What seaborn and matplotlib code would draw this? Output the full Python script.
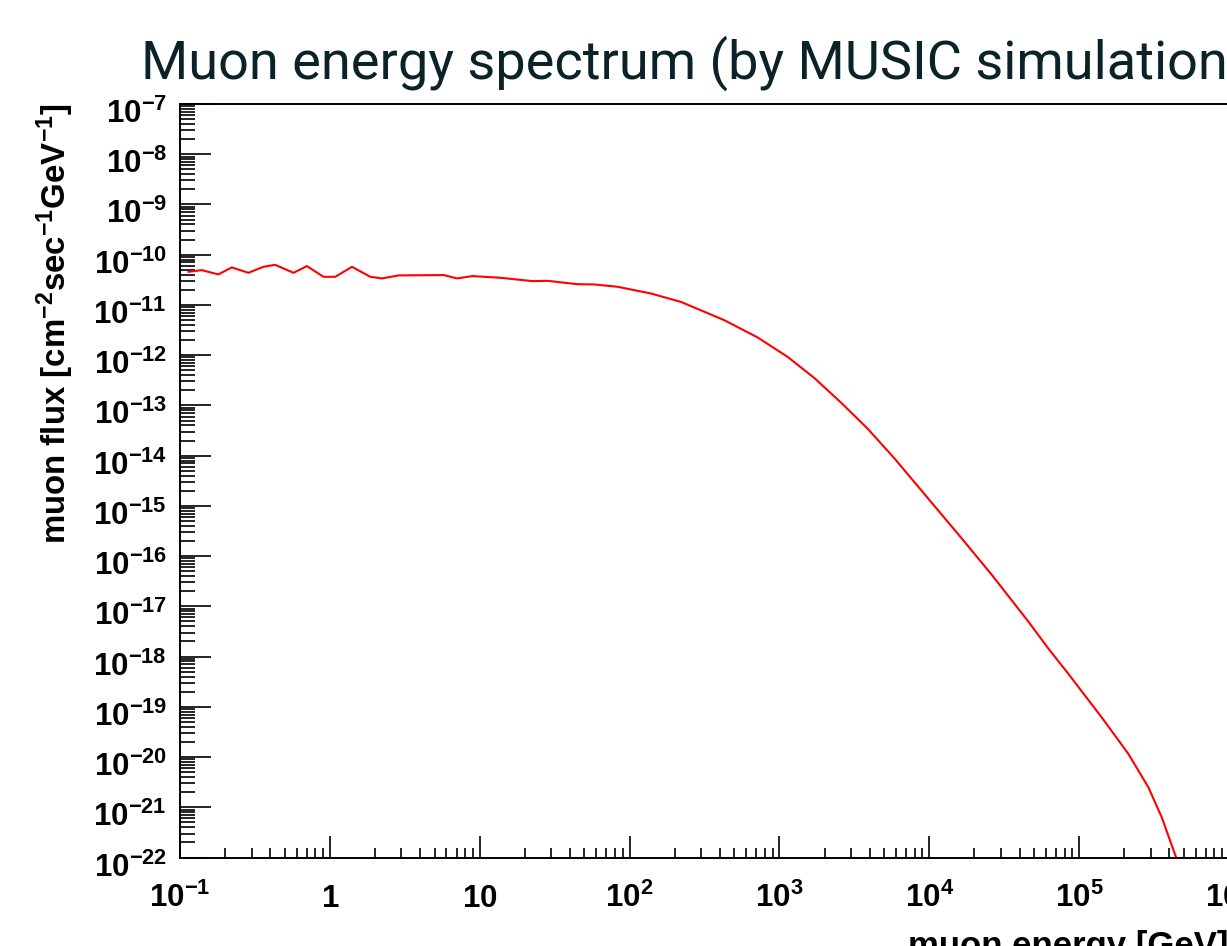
import numpy as np
import matplotlib
matplotlib.use("Agg")
import matplotlib.pyplot as plt
from matplotlib.ticker import FixedLocator, LogLocator, NullFormatter
from matplotlib.transforms import ScaledTranslation
import seaborn as sns

# ---- data ----
energy_gev = [0.1136, 0.1396, 0.1803, 0.2216, 0.2862, 0.3603, 0.4315, 0.5718,
              0.703, 0.908, 1.087, 1.405, 1.862, 2.23, 2.88, 5.75, 7.07, 8.91,
              13.8, 22.4, 28.3, 44.8, 57.9, 83.0, 138.7, 220, 428, 716, 1137,
              1712, 2582, 3893, 5866, 9306, 15560, 25960, 45700, 62150, 84600,
              141000, 212900, 289500, 355600, 447700, 470000]
muon_flux = [4.56e-11, 4.93e-11, 4.05e-11, 5.58e-11, 4.36e-11, 5.74e-11, 6.29e-11,
             4.36e-11, 5.93e-11, 3.63e-11, 3.63e-11, 5.74e-11, 3.63e-11, 3.37e-11,
             3.87e-11, 3.93e-11, 3.37e-11, 3.75e-11, 3.47e-11, 2.98e-11, 3.02e-11,
             2.59e-11, 2.56e-11, 2.30e-11, 1.69e-11, 1.15e-11, 4.98e-12, 2.25e-12,
             9.2e-13, 3.5e-13, 1.13e-13, 3.4e-14, 8.75e-15, 1.70e-15, 2.75e-16,
             4.34e-17, 5.02e-18, 1.46e-18, 4.56e-19, 6.23e-20, 1.16e-20, 2.51e-21,
             6.35e-22, 9.3e-23, 3.0e-23]

x_tick_values = [1e-1, 1, 10, 1e2, 1e3, 1e4, 1e5, 1e6]
x_tick_labels = ["10^{-1}", "1", "10", "10^{2}", "10^{3}", "10^{4}", "10^{5}", "10^{6}"]
y_tick_exponents = list(range(-22, -6))

title_text = "Muon energy spectrum (by MUSIC simulation)"
x_label = "muon energy [GeV]"
y_label = r"$\mathbf{muon\ flux\ [cm^{-2}sec^{-1}GeV^{-1}]}$"

# ---- style ----
sns.set_style("white")
plt.rcParams["font.family"] = ["Liberation Sans", "DejaVu Sans"]
plt.rcParams["mathtext.fontset"] = "custom"
plt.rcParams["mathtext.rm"] = "Liberation Sans"
plt.rcParams["mathtext.bf"] = "Liberation Sans:bold"
plt.rcParams["mathtext.it"] = "Liberation Sans:italic"
for k in ["text.color", "axes.labelcolor", "xtick.color", "ytick.color",
          "axes.edgecolor"]:
    plt.rcParams[k] = "black"

W, H = 1227, 946
fig = plt.figure(figsize=(W / 100, H / 100), dpi=100)
fig.patch.set_facecolor("white")
ax_left, ax_right, ax_top, ax_bottom = 180, 1229, 104, 857.5
ax = fig.add_axes([ax_left / W, (H - ax_bottom) / H,
                   (ax_right - ax_left) / W, (ax_bottom - ax_top) / H])
ax.set_xscale("log")
ax.set_yscale("log")

sns.lineplot(x=energy_gev, y=muon_flux, ax=ax, color="#ff0000", linewidth=1.5,
             sort=False, estimator=None)

ax.set_xlim(1e-1, 1e6)
ax.set_ylim(1e-22, 1e-7)

for side in ["left", "bottom", "top", "right"]:
    ax.spines[side].set_visible(True)
    ax.spines[side].set_color("black")
    ax.spines[side].set_linewidth(1.4)

# ticks
ax.xaxis.set_major_locator(FixedLocator(x_tick_values))
ax.set_xticklabels([r"$\mathbf{%s}$" % s for s in x_tick_labels])
ax.xaxis.set_minor_locator(LogLocator(base=10, subs=np.arange(2, 10), numticks=100))
ax.xaxis.set_minor_formatter(NullFormatter())

y_vals = [10.0 ** e for e in y_tick_exponents]
ax.yaxis.set_major_locator(FixedLocator(y_vals))
ax.set_yticklabels([r"$\mathbf{10^{%d}}$" % e for e in y_tick_exponents])
ax.yaxis.set_minor_locator(LogLocator(base=10, subs=np.arange(2, 10), numticks=100))
ax.yaxis.set_minor_formatter(NullFormatter())

ax.tick_params(axis="x", which="major", direction="in", length=15.8, width=1.2,
               labelsize=22.5, pad=35.6, bottom=True, top=False, colors="black")
ax.tick_params(axis="x", which="minor", direction="in", length=7.2, width=1.2,
               bottom=True, top=False, colors="black")
ax.tick_params(axis="y", which="major", direction="in", length=22.3, width=1.2,
               labelsize=22.5, pad=9.4, left=True, right=False, colors="black")
ax.tick_params(axis="y", which="minor", direction="in", length=10.8, width=1.2,
               left=True, right=False, colors="black")

for t in ax.xaxis.get_major_ticks():
    t.label1.set_verticalalignment("baseline")
offset = ScaledTranslation(0, -19 / 100, fig.dpi_scale_trans)
for t in ax.yaxis.get_major_ticks():
    t.label1.set_verticalalignment("baseline")
    t.label1.set_transform(t.label1.get_transform() + offset)

# axis titles
ax.set_xlabel(x_label, loc="right", fontsize=25, fontweight="bold", va="baseline",
              color="black")
ax.xaxis.set_label_coords(1.0, -(956 - ax_bottom) / (ax_bottom - ax_top))
ax.set_ylabel(y_label, loc="top", fontsize=23.8, va="baseline", color="black")
ax.yaxis.set_label_coords((66 - ax_left) / (ax_right - ax_left), 1.0)

# title
fig.text(141 / W, 1 - 79 / H, title_text, ha="left", va="baseline",
         fontsize=39, family=["Roboto", "DejaVu Sans"], color="#0b2228")

fig.savefig("out.png", dpi=100, facecolor="white")
